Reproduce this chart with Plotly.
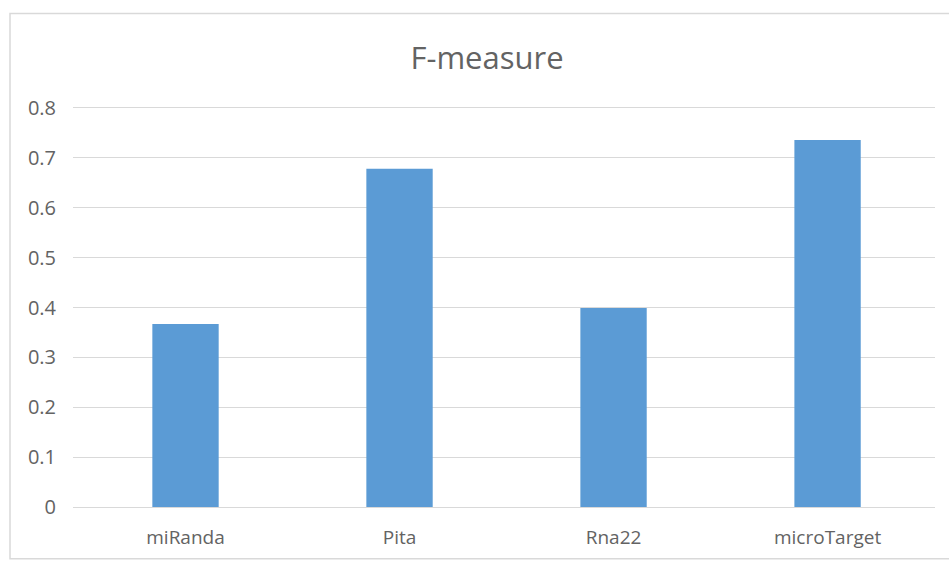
import plotly.graph_objects as go

tools = ["miRanda", "Pita", "Rna22", "microTarget"]
f_measure = [0.367, 0.678, 0.399, 0.736]
y_ticks = [0, 0.1, 0.2, 0.3, 0.4, 0.5, 0.6, 0.7, 0.8]
y_tick_text = ["0", "0.1", "0.2", "0.3", "0.4", "0.5", "0.6", "0.7", "0.8"]

W, H = 949, 562
ML, MR, MT, MB = 73, 14, 105, 53
PW = W - ML - MR
PH = H - MT - MB

TEXT = "#636363"
GRID = "#D9D9D9"
FONT = "Open Sans, sans-serif"

fig = go.Figure(
    go.Bar(
        x=list(range(len(tools))),
        y=f_measure,
        width=0.31,
        marker=dict(color="#5B9BD5", line=dict(width=0)),
    )
)

# outer chart frame (runs off the right edge of the page)
def px_x(p):
    return (p - ML) / PW

def px_y(p):
    return (H - MB - p) / PH

fig.add_shape(
    type="rect", xref="paper", yref="paper",
    x0=px_x(10), x1=px_x(955), y0=px_y(561), y1=px_y(13),
    line=dict(color=GRID, width=1.5), fillcolor="rgba(0,0,0,0)", layer="below",
)

fig.update_layout(
    width=W, height=H,
    margin=dict(l=ML, r=MR, t=MT, b=MB, pad=0),
    paper_bgcolor="white", plot_bgcolor="white",
    showlegend=False,
    font=dict(family=FONT, color=TEXT),
    title=dict(
        text="F-measure",
        x=487 / W, xref="container", xanchor="center",
        y=1 - 58 / H, yref="container", yanchor="middle",
        font=dict(size=31, color=TEXT, family=FONT),
    ),
    xaxis=dict(
        range=[-0.5257, 3.502],
        tickmode="array",
        tickvals=list(range(len(tools))),
        ticktext=tools,
        tickfont=dict(size=19, color=TEXT),
        showgrid=False,
        zeroline=False,
        showline=False,
        ticks="",
        ticklabelstandoff=17,
        fixedrange=True,
    ),
    yaxis=dict(
        range=[0, 0.806],
        tickmode="array",
        tickvals=y_ticks,
        ticktext=y_tick_text,
        tickfont=dict(size=20, color=TEXT),
        showgrid=True,
        gridcolor=GRID,
        gridwidth=1,
        zeroline=True,
        zerolinecolor=GRID,
        zerolinewidth=1,
        showline=False,
        ticks="",
        ticklabelstandoff=16,
        fixedrange=True,
    ),
)

fig.write_html("out.html")
